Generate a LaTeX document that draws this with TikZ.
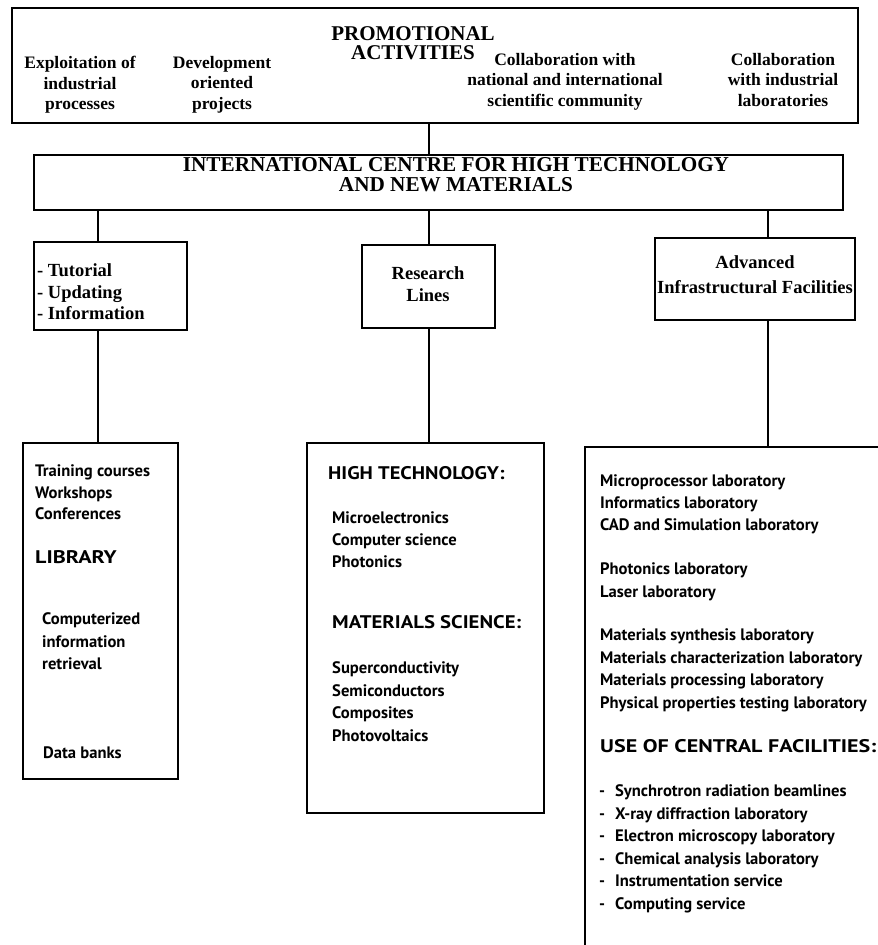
\documentclass[tikz,border=0pt]{standalone}
\usepackage{fontspec}
\usepackage{graphicx}
\setmainfont{Liberation Serif}
\newfontfamily\labfont{PT Sans}
% wide capitals for the section headings of the lower boxes
\newcommand\widecaps[2]{\scalebox{#1}[1.1]{#2}}
\begin{document}
\begin{tikzpicture}[x=1pt,y=-1pt,
  frame/.style={draw, line width=2.5pt, inner sep=0pt, outer sep=0pt},
  link/.style={line width=2.8pt},
  headtext/.style={font=\bfseries\fontsize{21}{19.5}\selectfont, align=center, anchor=north, inner sep=0pt},
  coltext/.style={font=\bfseries\fontsize{17.5}{20.5}\selectfont, align=center, anchor=north, inner sep=0pt},
  midtext/.style={font=\bfseries\fontsize{18.5}{21.5}\selectfont, inner sep=0pt, anchor=north},
  labtext/.style={font=\labfont\bfseries\fontsize{16.6}{22.5}\selectfont, align=left, anchor=north west, inner sep=0pt},
]
\useasboundingbox (0,0) rectangle (878,945);

% x positions of the vertical links
\coordinate (xl) at (98,0);
\coordinate (xm) at (429,0);
\coordinate (xr) at (768,0);

% boxes
\node[frame, minimum width=846pt, minimum height=115pt] (top) at (435,65.5) {};
\node[frame, minimum width=809pt, minimum height=55pt] (centre) at (438.5,182.5) {};
\node[frame, minimum width=153pt, minimum height=88pt] (tut) at (110.5,286) {};
\node[frame, minimum width=133pt, minimum height=83pt] (res) at (428.5,286.5) {};
\node[frame, minimum width=200pt, minimum height=82pt] (adv) at (755,279) {};
\node[frame, minimum width=155pt, minimum height=336pt] (lib) at (100.5,611) {};
\node[frame, minimum width=237pt, minimum height=370pt] (lines) at (425.5,628) {};
\node[inner sep=0pt, outer sep=0pt, minimum width=296pt, minimum height=498pt] (labs) at (733,696) {};
\draw[line width=2.5pt] (labs.north east) -- (labs.north west) -- (labs.south west);

% links
\draw[link] (top.south -| xm) -- (centre.north -| xm);
\draw[link] (centre.south -| xl) -- (tut.north -| xl);
\draw[link] (centre.south -| xm) -- (res.north -| xm);
\draw[link] (centre.south -| xr) -- (adv.north -| xr);
\draw[link] (tut.south -| xl) -- (lib.north -| xl);
\draw[link] (res.south -| xm) -- (lines.north -| xm);
\draw[link] (adv.south -| xr) -- (labs.north -| xr);

% promotional activities
\node[headtext] (promo) at (413,26) {PROMOTIONAL\\ACTIVITIES};
\node[coltext] (expl) at (80,56) {Exploitation of\\industrial\\processes};
\node[coltext] (devel) at (222,56) {Development\\oriented\\projects};
\node[coltext] (collab) at (565,53) {Collaboration with\\national and international\\scientific community};
\node[coltext] (indlab) at (783,53) {Collaboration\\with industrial\\laboratories};

% centre
\node[headtext, font=\bfseries\fontsize{21.2}{20}\selectfont] (ictitle) at (456,157) {INTERNATIONAL CENTRE FOR HIGH TECHNOLOGY\\AND NEW MATERIALS};

% second level
\node[midtext, anchor=north west, align=left] (tuttext) at (37,263.5) {- Tutorial\\- Updating\\- Information};
\node[midtext, align=center, font=\bfseries\fontsize{18.5}{22}\selectfont] (restext) at (428,266.5) {Research\\Lines};
\node[midtext, align=center, font=\bfseries\fontsize{18.5}{25}\selectfont] (advtext) at (755,255.5) {Advanced\\Infrastructural Facilities};

% tutorial column
\node[labtext, font=\labfont\bfseries\fontsize{16.6}{21.5}\selectfont] (courses) at (35,464.5) {Training courses\\Workshops\\Conferences};
\node[labtext] (library) at (35,550.5) {\widecaps{1.33}{LIBRARY}};
\node[labtext] (retrieval) at (42,612.5) {Computerized\\information\\retrieval};
\node[labtext] (banks) at (43,746.5) {Data banks};

% research lines column
\node[labtext] (hightech) at (328,466.5) {\widecaps{1.23}{HIGH TECHNOLOGY:}};
\node[labtext, font=\labfont\bfseries\fontsize{16.6}{22}\selectfont] (htlist) at (332,511.5) {Microelectronics\\Computer science\\Photonics};
\node[labtext] (matsci) at (332,615.5) {\widecaps{1.25}{MATERIALS SCIENCE:}};
\node[labtext, font=\labfont\bfseries\fontsize{16.6}{22.7}\selectfont] (mslist) at (332,661.5) {Superconductivity\\Semiconductors\\Composites\\Photovoltaics};

% facilities column
\node[labtext, font=\labfont\bfseries\fontsize{16.6}{22}\selectfont] (infolabs) at (600,474.5) {Microprocessor laboratory\\Informatics laboratory\\CAD and Simulation laboratory};
\node[labtext, font=\labfont\bfseries\fontsize{16.6}{23}\selectfont] (photolabs) at (600,562.5) {Photonics laboratory\\Laser laboratory};
\node[labtext, font=\labfont\bfseries\fontsize{16.6}{22.7}\selectfont] (matlabs) at (600,628.5) {Materials synthesis laboratory\\Materials characterization laboratory\\Materials processing laboratory\\Physical properties testing laboratory};
\node[labtext] (central) at (600,739.5) {\widecaps{1.33}{USE OF CENTRAL FACILITIES:}};
\node[labtext, font=\labfont\bfseries\fontsize{16.6}{22.6}\selectfont] (services) at (599,784.5) {%
\makebox[16pt][l]{-}Synchrotron radiation beamlines\\
\makebox[16pt][l]{-}X-ray diffraction laboratory\\
\makebox[16pt][l]{-}Electron microscopy laboratory\\
\makebox[16pt][l]{-}Chemical analysis laboratory\\
\makebox[16pt][l]{-}Instrumentation service\\
\makebox[16pt][l]{-}Computing service};
\end{tikzpicture}
\end{document}
